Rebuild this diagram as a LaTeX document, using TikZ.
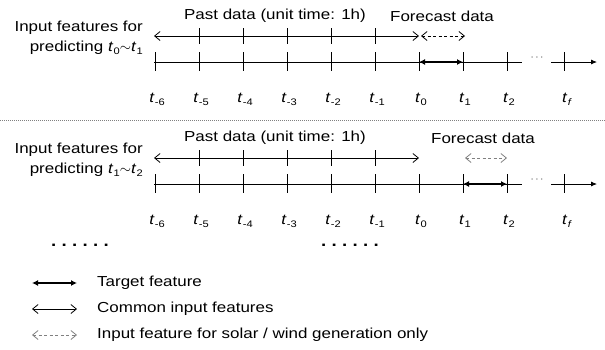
\documentclass[tikz,border=0pt]{standalone}
\usepackage{fontspec}
\setmainfont{Liberation Sans}[FakeStretch=1.17]
\usetikzlibrary{arrows.meta}
\tikzset{
  common/.style={line width=0.8pt, {Straight Barb[length=5.5pt,width=9pt]}-{Straight Barb[length=5.5pt,width=9pt]}},
  target/.style={line width=2pt, {Latex[length=6pt,width=6pt]}-{Latex[length=6pt,width=6pt]}},
  solar/.style={line width=0.8pt, dash pattern=on 3pt off 2.5pt, {Straight Barb[length=5.5pt,width=9pt]}-{Straight Barb[length=5.5pt,width=9pt]}},
  tline/.style={line width=0.8pt},
  tick/.style={line width=0.8pt},
  txt/.style={inner sep=0pt, font=\fontsize{14.5}{17}\selectfont},
  tlab/.style={inner sep=0pt, anchor=base, font=\fontsize{14.5}{17}\selectfont},
}
\newcommand{\tsub}[1]{\textit{t}\kern0.3pt\raisebox{-0.45ex}{\fontsize{9.5}{10}\selectfont #1}}
\begin{document}
\begin{tikzpicture}[x=1pt,y=-1pt]
\useasboundingbox (0,0) rectangle (605,349);
\foreach \p/\dy in {0/0,1/122}{
  % timeline
  \coordinate (Ls\p) at (154,62+\dy);
  \coordinate (Le\p) at (522,62+\dy);
  \coordinate (Fs\p) at (551,62+\dy);
  \coordinate (Fe\p) at (597,62+\dy);
  \draw[tline] (Ls\p) -- (Le\p);
  \draw[tline,-{Latex[length=6pt,width=5pt]}] (Fs\p) -- (Fe\p);
  \node[inner sep=0pt, text=gray, font=\fontsize{11}{11}\selectfont] (dd\p) at (537,59+\dy) {\textperiodcentered\kern0.5pt\textperiodcentered\kern0.5pt\textperiodcentered};
  \foreach \i/\lab in {-6/-6,-5/-5,-4/-4,-3/-3,-2/-2,-1/-1,0/0,1/1,2/2}{
    \draw[tick] (419+44*\i,52+\dy) -- (419+44*\i,71+\dy);
    \node[tlab] (lab\p\lab) at (421+44*\i,102+\dy) {\tsub{\lab}};
  }
  \draw[tick] (564,52+\dy) -- (564,71+\dy);
  \node[tlab] (labf\p) at (567,102+\dy) {\tsub{\textit{f}}};
  % past data arrow
  \coordinate (Ua\p) at (154,36+\dy);
  \coordinate (Ub\p) at (419,36+\dy);
  \draw[common] (Ua\p) -- (Ub\p);
  \foreach \i in {-5,-4,-3,-2,-1}{
    \draw[tick] (419+44*\i,28+\dy) -- (419+44*\i,44+\dy);
  }
  \node[txt] (past\p) at (275,16+\dy) {Past data (unit time: 1h)};
}
% top panel specifics
\node[txt, anchor=east, align=right] (in0) at (143,38) {Input features for\\[3pt]predicting \tsub{0}$\sim$\tsub{1}};
\node[txt] (fc0) at (442,16) {Forecast data};
\coordinate (D0a) at (421,36);
\coordinate (D0b) at (465,36);
\draw[solar] (D0a) -- (D0b);
\coordinate (T0a) at (419,62);
\coordinate (T0b) at (463,62);
\draw[target] (T0a) -- (T0b);
% separator
\coordinate (S0) at (0,120);
\coordinate (S1) at (605,120);
\draw[gray, line width=0.6pt, dash pattern=on 1pt off 1pt] (S0) -- (S1);
% bottom panel specifics
\node[txt, anchor=east, align=right] (in1) at (143,160) {Input features for\\[3pt]predicting \tsub{1}$\sim$\tsub{2}};
\node[txt] (fc1) at (483,138) {Forecast data};
\coordinate (D1a) at (465,158);
\coordinate (D1b) at (507,158);
\draw[solar, gray] (D1a) -- (D1b);
\coordinate (T1a) at (463,184);
\coordinate (T1b) at (507,184);
\draw[target] (T1a) -- (T1b);
% ellipses
\node[txt, font=\fontsize{16}{17}\selectfont\bfseries\addfontfeature{LetterSpace=33}] (el1) at (80,245) {......};
\node[txt, font=\fontsize{16}{17}\selectfont\bfseries\addfontfeature{LetterSpace=33}] (el2) at (350,245) {......};
% legend
\coordinate (La1) at (32,283); \coordinate (Lb1) at (77,283);
\coordinate (La2) at (32,309); \coordinate (Lb2) at (77,309);
\coordinate (La3) at (32,335); \coordinate (Lb3) at (77,335);
\draw[target] (La1) -- (Lb1);
\draw[common] (La2) -- (Lb2);
\draw[solar, gray] (La3) -- (Lb3);
\node[txt, anchor=west] (lg1) at (97,283) {Target feature};
\node[txt, anchor=west] (lg2) at (97,309) {Common input features};
\node[txt, anchor=west] (lg3) at (97,335) {Input feature for solar / wind generation only};
\end{tikzpicture}
\end{document}
